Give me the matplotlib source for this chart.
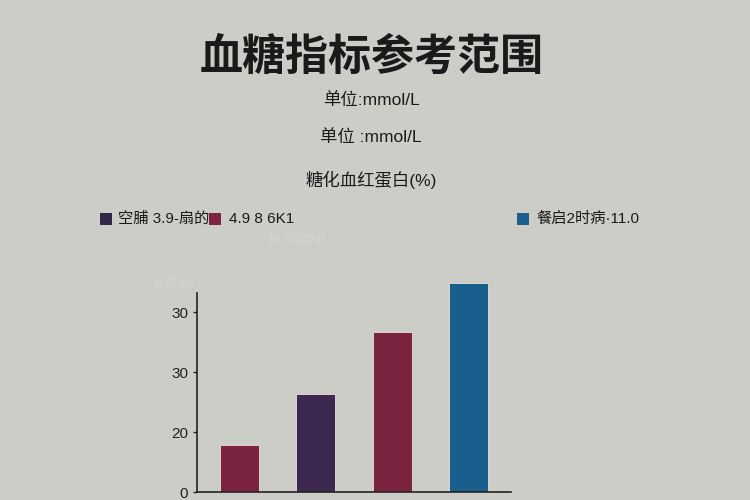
"""Blood glucose reference range bar chart."""

import matplotlib
matplotlib.use("Agg")
import matplotlib.pyplot as plt
from matplotlib.patches import Rectangle

plt.rcParams["font.family"] = ["Liberation Sans", "Noto Sans CJK SC", "DejaVu Sans"]

TITLE = "血糖指标参考范围"
SUBTITLES = ["单位:mmol/L", "单位 :mmol/L", "糖化血红蛋白(%)"]

legend_labels = ["空脯 3.9-扇的", "4.9 8 6K1", "餐启2时病·11.0"]
legend_colors = ["#33264a", "#7d2442", "#1b5f8c"]

bar_positions = [0, 1, 2, 3]
bar_values = [7.8, 16.3, 26.7, 34.8]
bar_colors = ["#7b2440", "#3d2850", "#7b2440", "#185f8e"]

ytick_values = [0, 10, 20, 30]
ytick_labels = ["0", "20", "30", "30"]

BG = "#cdcdc8"

fig = plt.figure(figsize=(7.5, 5), dpi=100, facecolor=BG)

fig.text(0.495, 0.886, TITLE, ha="center", va="center", fontsize=31,
         fontweight="bold", color="#1a1a1a", family=["Noto Sans CJK SC"])
for y, text in zip([0.80, 0.726, 0.64], SUBTITLES):
    fig.text(0.495, y, text, ha="center", va="center", fontsize=12.5,
             color="#1a1a1a")

# manual legend row
legend_x = [(100, 118), (209, 229), (517, 536)]
for (box_x, text_x), label, color in zip(legend_x, legend_labels, legend_colors):
    fig.patches.append(Rectangle((box_x / 750, 1 - 225 / 500), 12 / 750, 12 / 500,
                                 transform=fig.transFigure, facecolor=color,
                                 edgecolor="none"))
    fig.text(text_x / 750, 1 - 219 / 500, label, ha="left", va="center",
             fontsize=11, color="#1a1a1a")

# faint ghost text
fig.text(0.36, 1 - 240 / 500, "III SI/2/SII", ha="left", va="center",
         fontsize=9, color="#d6d6d2")
fig.text(0.205, 1 - 284 / 500, "III SI 2S", ha="left", va="center",
         fontsize=8, color="#d6d6d2")

ax = fig.add_axes([197 / 750, 1 - 492 / 500, (511 - 197) / 750, (492 - 293) / 500])
ax.set_facecolor(BG)
ax.bar(bar_positions, bar_values, width=0.51, color=bar_colors,
       edgecolor="#e6dfe2", linewidth=0.6, clip_on=False, zorder=2)

ax.set_xlim(-0.56, 3.56)
ax.set_ylim(0, 33.2)
ax.set_yticks(ytick_values)
ax.set_yticklabels(ytick_labels, fontsize=11, color="#222222")
ax.set_xticks([])
ax.spines["top"].set_visible(False)
ax.spines["right"].set_visible(False)
for side in ("left", "bottom"):
    ax.spines[side].set_linewidth(1.2)
    ax.spines[side].set_color("#222222")
ax.tick_params(axis="y", length=3, width=1, color="#222222")

fig.savefig("out.png", dpi=100, facecolor=BG)
